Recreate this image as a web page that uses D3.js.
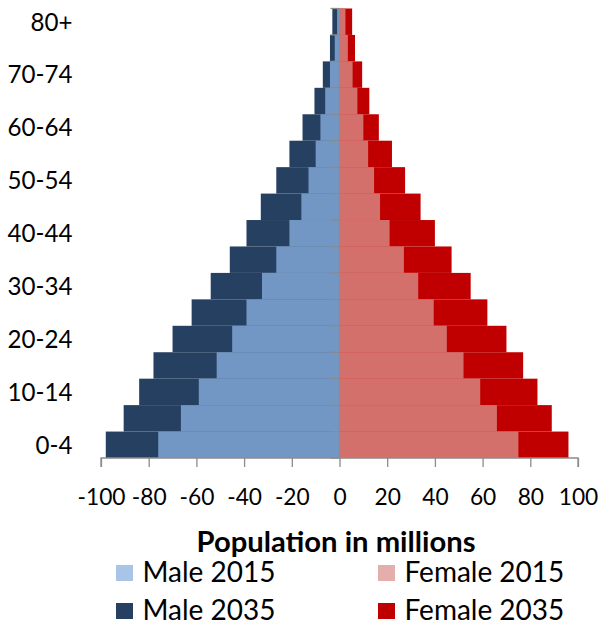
<!DOCTYPE html>
<html><head><meta charset="utf-8">
<script src="https://cdn.jsdelivr.net/npm/d3@7"></script>
<style>body{margin:0;background:#fff}svg{display:block}text{font-family:Lato,"Open Sans",sans-serif}</style>
</head><body>
<svg id="c" width="603" height="631"></svg>
<script>
const ageGroups = ["0-4","5-9","10-14","15-19","20-24","25-29","30-34","35-39","40-44","45-49","50-54","55-59","60-64","65-69","70-74","75-79","80+"];
const male2015 = [-76,-66.5,-59,-51.5,-45,-39,-32.5,-26.5,-21,-16,-13,-10,-8,-6,-4,-2,-1];
const male2035 = [-98,-90.5,-84,-78,-70,-62,-54,-46,-39,-33,-26.5,-21,-15.5,-10.5,-7,-4,-3];
const female2015 = [75,66,59,52,45,39.5,33,27,21,17,14.5,12,10,7.5,5.5,3.5,2.5];
const female2035 = [96,89,83,77,70,62,55,47,40,34,27.5,22,16.5,12.5,9.5,6.5,5.3];
const xTicks = [-100,-80,-60,-40,-20,0,20,40,60,80,100];
const seriesNames = ["Male 2015","Female 2015","Male 2035","Female 2035"];
const barColors = {"Male 2015":"#7397c4","Female 2015":"#d4706c","Male 2035":"#264061","Female 2035":"#c00000"};
const legendColors = {"Male 2015":"#a8c4e6","Female 2015":"#e3aeac","Male 2035":"#264061","Female 2035":"#c00000"};

const svg = d3.select("#c");
const x = d3.scaleLinear().domain([-100,100]).range([101,578]);
const y = d3.scaleBand().domain(ageGroups.slice().reverse()).range([8.5,458]).padding(0);

// fit a selection's font size so that a sample text matches a target width
function fitSize(sel, sampleText, targetW, base){
  const t = svg.append("text").attr("font-size",base).text(sampleText);
  if (sel.attr("font-weight")) t.attr("font-weight",sel.attr("font-weight"));
  const w = t.node().getComputedTextLength(); t.remove();
  sel.attr("font-size", base*targetW/w);
}

function bars(vals, name){
  svg.append("g").selectAll("rect").data(vals).join("rect")
    .attr("x",(d)=>Math.min(x(0),x(d)))
    .attr("width",(d)=>Math.abs(x(d)-x(0)))
    .attr("y",(d,i)=>y(ageGroups[i]))
    .attr("height",y.bandwidth())
    .attr("fill",barColors[name]);
}
bars(male2035,"Male 2035");
bars(female2035,"Female 2035");
bars(male2015,"Male 2015");
bars(female2015,"Female 2015");

const axisCol = "#8c8c8c";
svg.append("line").attr("x1",x(0)).attr("x2",x(0)).attr("y1",8.5).attr("y2",458).attr("stroke",axisCol).attr("stroke-width",1.3);
const bounds = ageGroups.map(a=>y(a)).concat([458]);
svg.append("g").selectAll("line").data(bounds).join("line")
  .attr("x1",x(0)-9).attr("x2",x(0)).attr("y1",d=>d).attr("y2",d=>d)
  .attr("stroke",axisCol).attr("stroke-width",1.3);

const yl = svg.append("g").selectAll("text").data(ageGroups.filter((a,i)=>i%2===0)).join("text")
  .attr("x",72.5).attr("y",d=>y(d)+y.bandwidth()/2+8.8)
  .attr("text-anchor","end").attr("fill","#000").text(d=>d);
fitSize(yl,"70-74",65,25);

const xa = svg.append("g").attr("transform","translate(0,458)")
  .call(d3.axisBottom(x).tickValues(xTicks).tickSize(9).tickFormat(d3.format("d")));
xa.select(".domain").attr("stroke",axisCol).attr("stroke-width",1.3).attr("d",`M${x(-100)},9V0H${x(100)}V9`);
xa.selectAll(".tick line").attr("stroke",axisCol).attr("stroke-width",1.3);
const xt = xa.selectAll(".tick text").attr("fill","#000").attr("y",47).attr("dy",0)
  .style("font-family","Lato,sans-serif").text(d=>String(d));
fitSize(xt,"-100",48,25);

const title = svg.append("text").attr("x",336).attr("y",551.5).attr("text-anchor","middle")
  .attr("font-weight","bold").attr("fill","#000").text("Population in millions");
fitSize(title,"Population in millions",279,23);

const legPos = [[116,565],[378,565],[116,603],[378,603]];
const legTexts = [];
seriesNames.forEach((n,i)=>{
  const [lx,ly]=legPos[i];
  svg.append("rect").attr("x",lx).attr("y",ly).attr("width",17).attr("height",16).attr("fill",legendColors[n]);
  legTexts.push(svg.append("text").attr("x",lx+26.5).attr("y",ly+16.5).attr("fill","#000").text(n).node());
});
fitSize(d3.selectAll(legTexts),"Male 2015",133,27);
</script>
</body></html>
